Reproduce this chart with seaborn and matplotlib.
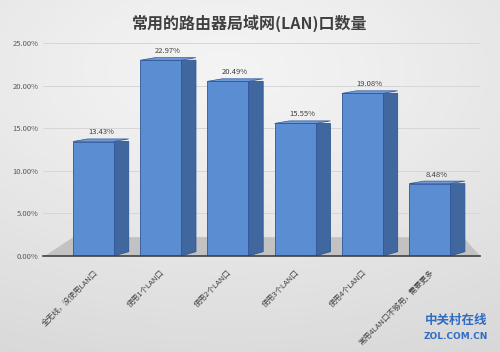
import numpy as np
import seaborn as sns
import matplotlib.pyplot as plt
from matplotlib.patches import Polygon

# Data
categories = ['全无线，没使用LAN口', '使用1个LAN口', '使用2个LAN口',
              '使用3个LAN口', '使用4个LAN口', '常用4LAN口不够用，需要更多']
shares = [0.1343, 0.2297, 0.2049, 0.1555, 0.1908, 0.0848]
yticks = [0, 0.05, 0.10, 0.15, 0.20, 0.25]

sns.set_style('white')
plt.rcParams['font.family'] = ['Noto Sans CJK SC', 'DejaVu Sans']

fig = plt.figure(figsize=(5, 3.52), dpi=100)

# soft gray background gradient
bg = fig.add_axes([0, 0, 1, 1], zorder=-10)
yy, xx = np.mgrid[0:1:200j, 0:1:200j]
grad = 1 - 0.9 * np.hypot((xx - 0.45) * 0.9, (yy - 0.2) * 1.1)
bg.imshow(grad, cmap='Greys_r', vmin=-4.0, vmax=1.5, aspect='auto', extent=[0, 1, 0, 1])
bg.axis('off')

ax = fig.add_axes([0.086, 0.273, 0.874, 0.605])
ax.patch.set_alpha(0)

# floor
ax.add_patch(Polygon([(-0.72, 0), (5.75, 0), (5.5, 0.022), (-0.3, 0.022)],
                     closed=True, facecolor='#c2c2c2', edgecolor='none', zorder=1))

sns.barplot(x=categories, y=shares, color='#5b8dd3', width=0.61,
            edgecolor='#2f5597', linewidth=0.6, saturation=1, ax=ax, zorder=3)

dx, dy = 0.22, 0.005
for p in list(ax.patches):
    if isinstance(p, Polygon):
        continue
    x0 = p.get_x()
    x1 = x0 + p.get_width()
    h = p.get_height()
    ax.add_patch(Polygon([(x1, 0), (x1 + dx, dy), (x1 + dx, h), (x1, h)], closed=True,
                         facecolor='#40689f', edgecolor='#2f5597', linewidth=0.6, zorder=2.9))
    ax.add_patch(Polygon([(x0, h), (x1, h), (x1 + dx, h + 0.003), (x0 + dx, h + 0.003)],
                         closed=True, facecolor='#6f9bd8', edgecolor='#2f5597',
                         linewidth=0.5, zorder=2.9))
    ax.text(x0 + (p.get_width() + dx) / 2, h + 0.006, f'{h * 100:.2f}%',
            ha='center', va='bottom', fontsize=5.5, color='#404040', zorder=4)

ax.set_xlim(-0.75, 5.75)
ax.set_ylim(0, 0.25)
ax.set_yticks(yticks)
ax.set_yticklabels([f'{t * 100:.2f}%' for t in yticks], fontsize=5.5, color='#595959')
ax.yaxis.grid(True, color='#d6d6d6', linewidth=0.7)
ax.set_axisbelow(True)
ax.tick_params(axis='y', length=0, pad=3)
ax.tick_params(axis='x', length=0, pad=9)
ax.set_xticks(range(len(categories)))
ax.set_xticklabels(categories, rotation=45, ha='right', rotation_mode='anchor',
                   fontsize=5.5, color='#404040')
for s in ['left', 'right', 'top']:
    ax.spines[s].set_visible(False)
ax.spines['bottom'].set_color('#404040')
ax.spines['bottom'].set_linewidth(1.2)
ax.spines['bottom'].set_zorder(5)

fig.text(0.5, 0.935, '常用的路由器局域网(LAN)口数量', ha='center', va='center',
         fontsize=11.5, fontweight='bold', color='#404040')

# watermark
fig.text(0.912, 0.09, '中关村在线', ha='center', va='center', fontsize=9,
         fontweight='bold', color='#2f6cc4')
fig.text(0.912, 0.045, 'ZOL.COM.CN', ha='center', va='center', fontsize=6.5,
         fontweight='bold', color='#2f6cc4', family=['DejaVu Sans'])

fig.savefig('out.png', dpi=100)
